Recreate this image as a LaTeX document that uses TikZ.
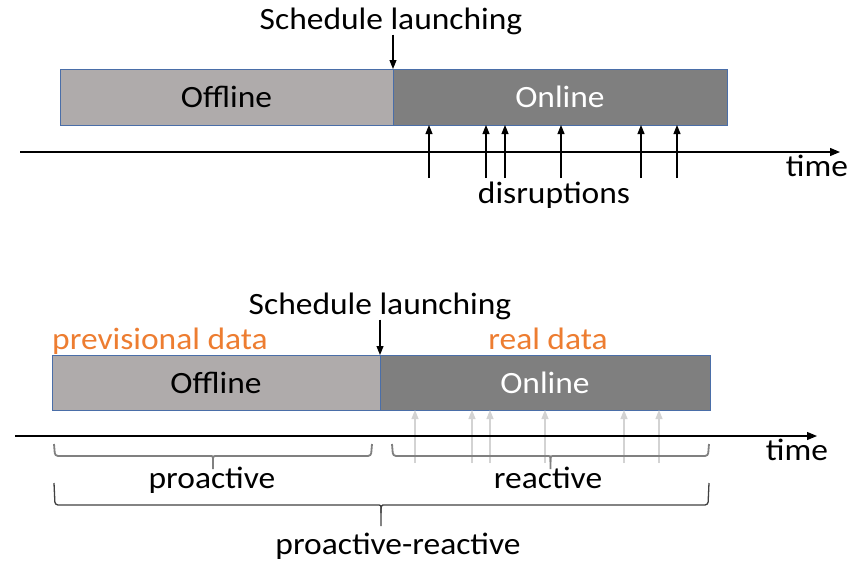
\documentclass[tikz,border=0pt]{standalone}
\usepackage{fontspec}
\setmainfont{Carlito}[FakeStretch=1.08]
\usepackage{tikz}
\usetikzlibrary{positioning, arrows.meta, calc}
\definecolor{offgray}{HTML}{AFABAB}
\definecolor{ongray}{HTML}{7F7F7F}
\definecolor{boxblue}{HTML}{4A6EA8}
\definecolor{dataorange}{HTML}{ED7D31}
\definecolor{ghost}{HTML}{D3D3D3}
\definecolor{bracegray}{HTML}{404040}
\definecolor{bracelight}{HTML}{808080}

\begin{document}
\begin{tikzpicture}[x=1pt, y=-1pt, font=\fontsize{31}{36}\selectfont,
  phase/.style={rectangle, draw=boxblue, line width=1pt, inner sep=0pt, outer sep=0pt, minimum height=56pt},
  txt/.style={inner sep=0pt, anchor=base},
  hit/.style={-{Triangle[length=9pt, width=7pt]}, line width=1.1pt},
  ghosthit/.style={-{Triangle[length=9pt, width=7pt]}, line width=1.1pt, draw=ghost, fill=ghost},
  axis/.style={-{Triangle[length=10pt, width=8pt]}, line width=1.2pt},
  span/.style={draw=bracelight, line width=1.8pt, rounded corners=3pt},
  bigspan/.style={draw=bracegray, line width=1.3pt, rounded corners=3pt}]

\useasboundingbox (0,0) rectangle (847,562);

%%% TOP: reactive only

% phases
\node [phase, fill=offgray, minimum width=333pt, anchor=north west] (off-a) at (60,69) {Offline};
\node [phase, fill=ongray, text=white, minimum width=334pt, anchor=north west] (on-a) at (off-a.north east) {Online};

% launching
\node [txt] (launch-a) at (391,29) {Schedule launching};
\draw [hit] (launch-a.south -| on-a.north west) -- (on-a.north west);

% disruptions
\foreach \x in {429,486,505,561,641,677}
  \draw [hit] (\x,178) coordinate (dis-a-\x) -- (dis-a-\x |- on-a.south);
\node [txt] (dis-a) at (554,203) {disruptions};

% time axis
\coordinate (ax-a-start) at (20,152);
\coordinate (ax-a-end) at (840,152);
\draw [axis] (ax-a-start) -- (ax-a-end);
\node [txt] (time-a) at (817,176) {time};

%%% BOTTOM: proactive-reactive

% phases
\node [phase, fill=offgray, minimum width=328pt, minimum height=55pt, anchor=north west] (off-b) at (52,355) {Offline};
\node [phase, fill=ongray, text=white, minimum width=330pt, minimum height=55pt, anchor=north west] (on-b) at (off-b.north east) {Online};

% data labels
\node [txt, anchor=base west, text=dataorange] (prev-b) at (52,349) {previsional data};
\node [txt, text=dataorange] (real-b) at (548,349) {real data};

% launching
\node [txt] (launch-b) at (380,314) {Schedule launching};
\draw [hit] (launch-b.south -| on-b.north west) -- (on-b.north west);

% disruptions (faded)
\foreach \x in {415,472,490,545,624,659}
  \draw [ghosthit] (\x,463) coordinate (dis-b-\x) -- (dis-b-\x |- on-b.south);

% time axis
\coordinate (ax-b-start) at (15,436);
\coordinate (ax-b-end) at (817,436);
\draw [axis] (ax-b-start) -- (ax-b-end);
\node [txt] (time-b) at (797,460) {time};

% braces
\coordinate (pro-l) at (54,444);
\coordinate (pro-r) at (372,444);
\coordinate (pro-m) at ($(pro-l)!.5!(pro-r)$);
\coordinate (rea-l) at (392,444);
\coordinate (rea-r) at (709,444);
\coordinate (rea-m) at ($(rea-l)!.5!(rea-r)$);
\coordinate (both-l) at (54,483);
\coordinate (both-r) at (709,483);
\coordinate (both-m) at (381,483);

\draw [span] (pro-l) -- ($(pro-l)+(1,12)$) -- ($(pro-m)+(-5,12)$) .. controls ($(pro-m)+(0,12)$) .. ($(pro-m)+(0,18)$) -- ($(pro-m)+(0,25)$);
\draw [span] (pro-r) -- ($(pro-r)+(-1,12)$) -- ($(pro-m)+(5,12)$) .. controls ($(pro-m)+(0,12)$) .. ($(pro-m)+(0,18)$);
\draw [span] (rea-l) -- ($(rea-l)+(1,12)$) -- ($(rea-m)+(-5,12)$) .. controls ($(rea-m)+(0,12)$) .. ($(rea-m)+(0,18)$) -- ($(rea-m)+(0,25)$);
\draw [span] (rea-r) -- ($(rea-r)+(-1,12)$) -- ($(rea-m)+(5,12)$) .. controls ($(rea-m)+(0,12)$) .. ($(rea-m)+(0,18)$);
\draw [bigspan] (both-l) -- ($(both-l)+(1,22)$) -- ($(both-m)+(-7,22)$) .. controls ($(both-m)+(0,22)$) .. ($(both-m)+(0,30)$) -- ($(both-m)+(0,43)$);
\draw [bigspan] (both-r) -- ($(both-r)+(-1,22)$) -- ($(both-m)+(7,22)$) .. controls ($(both-m)+(0,22)$) .. ($(both-m)+(0,30)$);

\node [txt] (pro) at (212,488) {proactive};
\node [txt] (rea) at (548,488) {reactive};
\node [txt] (both) at (398,554) {proactive-reactive};

\end{tikzpicture}
\end{document}
